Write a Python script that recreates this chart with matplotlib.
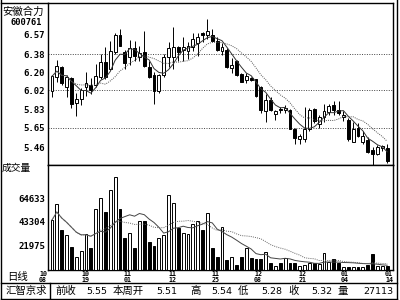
import numpy as np
import pandas as pd
import matplotlib
matplotlib.use("Agg")
import matplotlib.pyplot as plt
import matplotlib.transforms as mtrans

# daily candles
opens = [6.01, 6.15, 6.255, 6.05, 6.14, 5.90, 5.935, 6.05, 6.07, 6.07,
         6.15, 6.30, 6.23, 6.40, 6.57, 6.40, 6.35, 6.44, 6.35, 6.40,
         6.25, 6.17, 6.01, 6.17, 6.35, 6.35, 6.45, 6.42, 6.41, 6.45,
         6.49, 6.585, 6.57, 6.57, 6.51, 6.415, 6.42, 6.24, 6.31, 6.18,
         6.12, 6.14, 6.13, 6.055, 5.82, 5.925, 5.79, 5.84, 5.83, 5.83,
         5.64, 5.54, 5.54, 5.64, 5.835, 5.69, 5.76, 5.81, 5.88, 5.825,
         5.76, 5.73, 5.51, 5.65, 5.51, 5.53, 5.43, 5.39, 5.45, 5.45]
highs = [6.17, 6.32, 6.26, 6.17, 6.15, 5.99, 6.04, 6.20, 6.14, 6.28,
         6.38, 6.45, 6.51, 6.59, 6.63, 6.42, 6.52, 6.51, 6.46, 6.61,
         6.31, 6.20, 6.18, 6.38, 6.50, 6.65, 6.46, 6.55, 6.50, 6.59,
         6.59, 6.595, 6.73, 6.63, 6.55, 6.49, 6.44, 6.34, 6.32, 6.19,
         6.19, 6.155, 6.135, 6.06, 5.98, 5.95, 5.83, 5.86, 5.88, 5.84,
         5.65, 5.59, 5.86, 5.85, 5.85, 5.78, 5.89, 5.89, 5.915, 5.92,
         5.82, 5.75, 5.71, 5.70, 5.62, 5.555, 5.46, 5.48, 5.48, 5.49]
lows = [5.95, 6.10, 6.07, 5.95, 5.85, 5.77, 5.88, 5.96, 5.98, 6.05,
        6.13, 6.13, 6.22, 6.38, 6.455, 6.23, 6.27, 6.31, 6.31, 6.25,
        6.14, 5.89, 5.99, 6.15, 6.25, 6.23, 6.31, 6.31, 6.33, 6.41,
        6.36, 6.50, 6.53, 6.50, 6.41, 6.37, 6.24, 6.19, 6.16, 6.10,
        6.095, 6.11, 5.95, 5.80, 5.71, 5.82, 5.73, 5.80, 5.80, 5.635,
        5.49, 5.49, 5.51, 5.62, 5.70, 5.65, 5.71, 5.78, 5.78, 5.78,
        5.72, 5.52, 5.51, 5.555, 5.49, 5.40, 5.28, 5.38, 5.42, 5.30]
closes = [6.16, 6.26, 6.09, 6.15, 5.89, 5.94, 6.025, 6.09, 6.02, 6.16,
          6.30, 6.15, 6.41, 6.57, 6.46, 6.29, 6.44, 6.36, 6.39, 6.265,
          6.155, 6.01, 6.17, 6.35, 6.44, 6.45, 6.40, 6.45, 6.455, 6.53,
          6.55, 6.57, 6.61, 6.51, 6.42, 6.45, 6.25, 6.275, 6.17, 6.105,
          6.16, 6.12, 5.965, 5.83, 5.93, 5.83, 5.82, 5.83, 5.85, 5.64,
          5.545, 5.565, 5.64, 5.83, 5.72, 5.76, 5.82, 5.87, 5.83, 5.80,
          5.78, 5.54, 5.64, 5.57, 5.57, 5.415, 5.39, 5.465, 5.47, 5.32]
volumes = [45000, 59400, 36000, 31500, 20700, 11700, 17100, 32400, 19800, 54900,
           64800, 52200, 72000, 83700, 54900, 28800, 33300, 19800, 44100, 44100,
           25200, 21600, 28800, 31500, 67500, 60300, 37800, 33300, 32400, 41400,
           44100, 36000, 51300, 19800, 11700, 38700, 9000, 11700, 4500, 11700,
           19800, 10800, 9900, 9900, 16200, 6300, 3600, 6300, 10800, 6300,
           6300, 3600, 4500, 6300, 6300, 5400, 15300, 7200, 9900, 6300,
           2700, 2700, 2700, 2700, 2700, 4500, 14400, 3600, 3600, 3600]

price_ticks = [6.57, 6.38, 6.20, 6.02, 5.83, 5.65, 5.46]
price_grid = [6.38, 6.02, 5.65]
vol_ticks = [64633, 43304, 21975]
date_top = ["10", "10", "11", "11", "11", "12", "12", "01", "01"]
date_bot = ["08", "19", "01", "12", "25", "08", "21", "04", "14"]
date_pos = [-1.85, 6.8, 15.6, 24.7, 33.6, 42.4, 51.5, 60.3, 69.4]

status_labels = ["前收", "本周开", "高", "低", "收", "量"]
status_values = ["5.55", "5.51", "5.54", "5.28", "5.32", "27113"]

cn = ["Noto Sans CJK SC", "DejaVu Sans"]
mono = "DejaVu Sans Mono"

df = pd.DataFrame({"o": opens, "h": highs, "l": lows, "c": closes, "v": volumes})
x = np.arange(len(df))
up = df.c >= df.o
ma5 = df.c.rolling(5, min_periods=1).mean()
ma10 = df.c.rolling(10, min_periods=1).mean()
vma10 = df.v.rolling(10, min_periods=1).mean()
vma20 = df.v.rolling(20, min_periods=1).mean()

W, H = 400, 300
fig = plt.figure(figsize=(4, 3), dpi=100)
fig.patch.set_facecolor("white")

def frac(l, t, r, b):
    return [l / W, 1 - b / H, (r - l) / W, (b - t) / H]

ax = fig.add_axes(frac(48, 2.5, 393, 165))
axv = fig.add_axes(frac(48, 165, 393, 270))

# price panel
ax.vlines(x, df.l, df.h, color="black", lw=0.7, zorder=2)
body = (df.c - df.o).abs().clip(lower=0.004)
ax.bar(x, body, bottom=np.minimum(df.o, df.c), width=0.6,
       color=np.where(up, "white", "black"), edgecolor="black", lw=0.7, zorder=3)
ax.plot(x, ma5, color="#333333", lw=0.7, zorder=4)
ax.plot(x, ma10, color="#555555", lw=0.7, ls=(0, (1, 1.2)), zorder=4)
for g in price_grid:
    ax.axhline(g, color="#444444", lw=0.7, ls=(0, (1, 1.5)), zorder=1)
ax.set_xlim(-0.82, 70.2)
ax.set_ylim(5.282, 6.89)
ax.set_xticks([])
ax.set_yticks(price_ticks)
ax.set_yticklabels([f"{t:.2f}" for t in price_ticks], family=mono,
                   fontsize=6.5, fontweight="bold")
ax.tick_params(axis="y", length=0, pad=2)

# volume panel
axv.bar(x, df.v, width=0.6, color=np.where(up, "white", "black"),
        edgecolor="black", lw=0.7, zorder=3)
axv.plot(x, vma10, color="#444444", lw=0.7, zorder=4)
axv.plot(x, vma20, color="#666666", lw=0.7, ls=(0, (1, 1.2)), zorder=4)
axv.set_xlim(-0.82, 70.2)
axv.set_ylim(0, 94500)
axv.set_xticks([])
axv.set_yticks(vol_ticks)
axv.set_yticklabels([str(v) for v in vol_ticks], family=mono,
                    fontsize=6.5, fontweight="bold")
axv.tick_params(axis="y", length=0, pad=2)

for a in (ax, axv):
    for s in a.spines.values():
        s.set_linewidth(1.0)

tr = mtrans.blended_transform_factory(axv.transData, fig.transFigure)
for p, t1, t2 in zip(date_pos, date_top, date_bot):
    axv.text(p, 1 - 274 / H, t1, transform=tr, ha="center", va="center",
             family=mono, fontsize=4.8, fontweight="bold", clip_on=False)
    axv.text(p, 1 - 280 / H, t2, transform=tr, ha="center", va="center",
             family=mono, fontsize=4.8, fontweight="bold", clip_on=False)

# overlay in pixel space for frame and labels
bg = fig.add_axes([0, 0, 1, 1], zorder=-1)
bg.set_xlim(0, W)
bg.set_ylim(H, 0)
bg.axis("off")
k = dict(color="black", lw=1.0)
bg.plot([1, 1], [0, 299], **k)
bg.plot([397, 397], [0, 299], **k)
bg.plot([1, 397], [283, 283], **k)
bg.plot([1, 397], [298.5, 298.5], **k)
bg.plot([1, 48], [2.5, 2.5], **k)
bg.plot([50, 50], [283, 298.5], **k)

bg.text(2, 12, "安徽合力", family=cn, fontsize=7.5, va="center", ha="left")
bg.text(26, 22.5, "600761", family=mono, fontsize=6.3, fontweight="bold",
        va="center", ha="center")
bg.text(58, 12.5, "—MA(5)=5.40 ···MA(10)=5.50", family=mono, fontsize=6.5,
        fontweight="bold", va="center", ha="left")
bg.text(2, 167.5, "成交量", family=cn, fontsize=7, va="center", ha="left")
bg.text(60, 172.5, "—MA(10)=3614 ···MA(20)=5357", family=mono, fontsize=6.5,
        fontweight="bold", va="center", ha="left")
bg.text(7, 277, "日线", family=cn, fontsize=7.5, va="center", ha="left")
bg.text(26, 291, "汇智京求", family=cn, fontsize=7.5, va="center", ha="center")

label_x = [55, 113, 190, 238, 288, 337]
value_x = [107, 177, 232, 282, 332, 393]
for lx, lab, vx, val in zip(label_x, status_labels, value_x, status_values):
    bg.text(lx, 291, lab, family=cn, fontsize=7.5, va="center", ha="left")
    bg.text(vx, 291, val, family="DejaVu Sans", fontsize=6.8, va="center", ha="right")

fig.savefig("out.png", dpi=100, facecolor="white")
